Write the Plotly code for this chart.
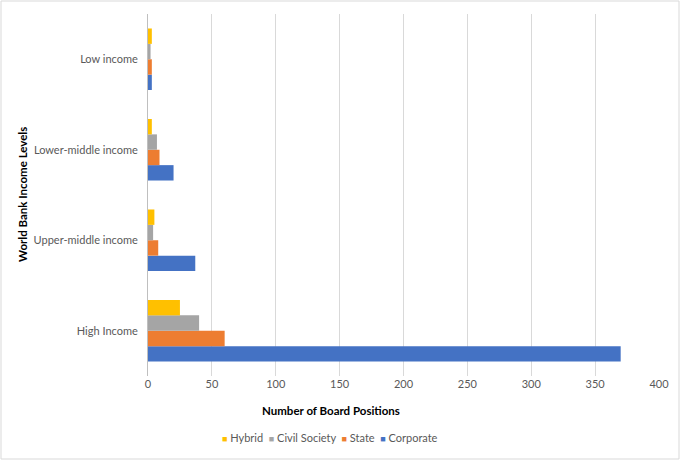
import plotly.graph_objects as go

categories = ["High Income", "Upper-middle income", "Lower-middle income", "Low income"]
corporate = [370, 37, 20, 3]
state = [60, 8, 9, 3]
civil_society = [40, 4, 7, 2]
hybrid = [25, 5, 3, 3]

series_names = ["Corporate", "State", "Civil Society", "Hybrid"]
series_values = [corporate, state, civil_society, hybrid]
colors = ["#4472C4", "#ED7D31", "#A5A5A5", "#FFC000"]

x_ticks = [0, 50, 100, 150, 200, 250, 300, 350, 400]

W, H = 680, 461
L, R, T, B = 148, 21, 14, 85
pw, ph = W - L - R, H - T - B

FONT = "Lato"

fig = go.Figure()
for name, vals, col in zip(series_names, series_values, colors):
    fig.add_trace(go.Bar(
        y=categories, x=vals, name=name, orientation="h",
        marker=dict(color=col, line=dict(width=0)),
        showlegend=False,
    ))

def px_x(p):
    return (p - L) / pw

def px_y(p):
    return (H - B - p) / ph

# compact Excel-like legend (Hybrid, Civil Society, State, Corporate)
legend_parts = []
for name, col in zip(series_names[::-1], colors[::-1]):
    legend_parts.append(
        f"<span style='color:{col};font-size:9px'>■</span>&nbsp;{name}"
    )
legend_text = "&nbsp;&nbsp;".join(legend_parts)

fig.update_layout(
    width=W, height=H,
    margin=dict(l=L, r=R, t=T, b=B),
    paper_bgcolor="white", plot_bgcolor="white",
    barmode="group", bargap=0.32, bargroupgap=0,
    font=dict(family=FONT, size=11, color="#595959"),
    showlegend=False,
    xaxis=dict(
        range=[0, 400], tickvals=x_ticks, ticktext=[str(v) for v in x_ticks],
        showgrid=True, gridcolor="#D9D9D9", gridwidth=1,
        zeroline=False, showline=False, ticks="",
        tickfont=dict(family=FONT, size=11, color="#595959"),
        fixedrange=True,
    ),
    yaxis=dict(
        type="category", categoryorder="array", categoryarray=categories,
        showgrid=False, zeroline=False,
        showline=True, linecolor="#BFBFBF", linewidth=1,
        ticks="", ticklabelstandoff=7,
        tickfont=dict(family=FONT, size=11, color="#595959"),
        fixedrange=True,
    ),
    annotations=[
        dict(text="<b>Number of Board Positions</b>", xref="paper", yref="paper",
             x=px_x(331), y=px_y(410), xanchor="center", yanchor="middle",
             showarrow=False, font=dict(family=FONT, size=11.5, color="#000000")),
        dict(text="<b>World Bank Income Levels</b>", xref="paper", yref="paper",
             x=px_x(22), y=px_y(195), xanchor="center", yanchor="middle",
             textangle=-90, showarrow=False,
             font=dict(family=FONT, size=11.5, color="#000000")),
        dict(text=legend_text, xref="paper", yref="paper",
             x=px_x(330), y=px_y(437), xanchor="center", yanchor="middle",
             showarrow=False, font=dict(family=FONT, size=11, color="#595959")),
    ],
    shapes=[
        dict(type="rect", xref="paper", yref="paper",
             x0=px_x(1), x1=px_x(W - 1), y0=px_y(H - 2), y1=px_y(1),
             line=dict(color="#D9D9D9", width=1), fillcolor="rgba(0,0,0,0)",
             layer="below"),
    ],
)

fig.write_html(
    "out.html",
    config={"displayModeBar": False, "staticPlot": True},
    post_script="document.body.style.margin='0px';",
)
